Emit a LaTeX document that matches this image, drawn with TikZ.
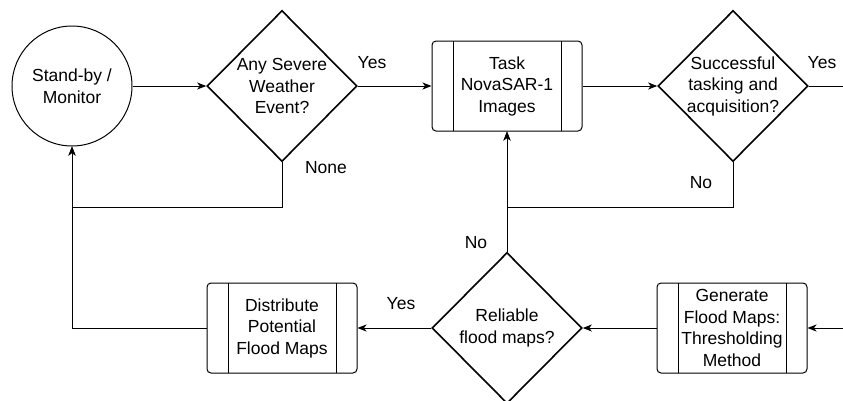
\documentclass[tikz,border=0pt]{standalone}
\usepackage{fontspec}
\setmainfont{Liberation Sans}
\usetikzlibrary{shapes.geometric, arrows.meta, positioning}

\begin{document}
\begin{tikzpicture}[x=1pt, y=-1pt, >={Stealth[length=9pt, width=7pt, inset=2.5pt]}, line width=1pt,
    every node/.style={font=\fontsize{17.5}{21.5}\selectfont, align=center},
    decision/.style={draw, diamond, line width=1.6pt, minimum width=150pt, minimum height=151pt, inner sep=-6pt},
    process/.style={draw, rectangle, rounded corners=4pt, minimum width=150pt, minimum height=90pt, inner sep=0pt,
        path picture={\draw[sharp corners]
            ([xshift=21pt]path picture bounding box.north west) -- ([xshift=21pt]path picture bounding box.south west)
            ([xshift=-21pt]path picture bounding box.north east) -- ([xshift=-21pt]path picture bounding box.south east);}},
    lbl/.style={inner sep=0pt}]
    \path[use as bounding box, fill=white] (0,0) rectangle (843,400);

    \node[draw, circle, minimum size=120pt, inner sep=0pt] (standby) at (72,86) {Stand-by /\\Monitor};
    \node[decision] (weather) at (282,86) {Any Severe\\Weather\\Event?};
    \node[process] (task) at (507,86) {Task\\NovaSAR-1\\Images};
    \node[decision] (success) at (733,86) {Successful\\tasking and\\acquisition?};

    \node[process] (distribute) at (282,328) {Distribute\\Potential\\Flood Maps};
    \node[decision] (reliable) at (507,328) {Reliable\\flood maps?};
    \node[process] (generate) at (732,328) {Generate\\Flood Maps:\\Thresholding\\Method};

    \coordinate (yesout) at (843,86);
    \coordinate (genin) at (843,328);

    \draw[->] (standby) -- (weather);
    \draw[->] (weather) -- (task);
    \draw[->] (task) -- (success);
    \draw (success) -- (yesout);
    \draw[->] (weather.south) -- ++(0,45.5) -| (standby.south);
    \draw[->] (success.south) -- ++(0,45.5) -| (task.south);
    \draw[->] (reliable.north) -- (task.south);
    \draw[->] (genin) -- (generate);
    \draw[->] (generate) -- (reliable);
    \draw[->] (reliable) -- (distribute);
    \draw[->] (distribute.west) -| (standby.south);

    \node[lbl] at (372,63) {Yes};
    \node[lbl] at (822,63) {Yes};
    \node[lbl] at (326,168) {None};
    \node[lbl] at (701,183) {No};
    \node[lbl] at (476,243) {No};
    \node[lbl] at (401,304) {Yes};
\end{tikzpicture}
\end{document}
